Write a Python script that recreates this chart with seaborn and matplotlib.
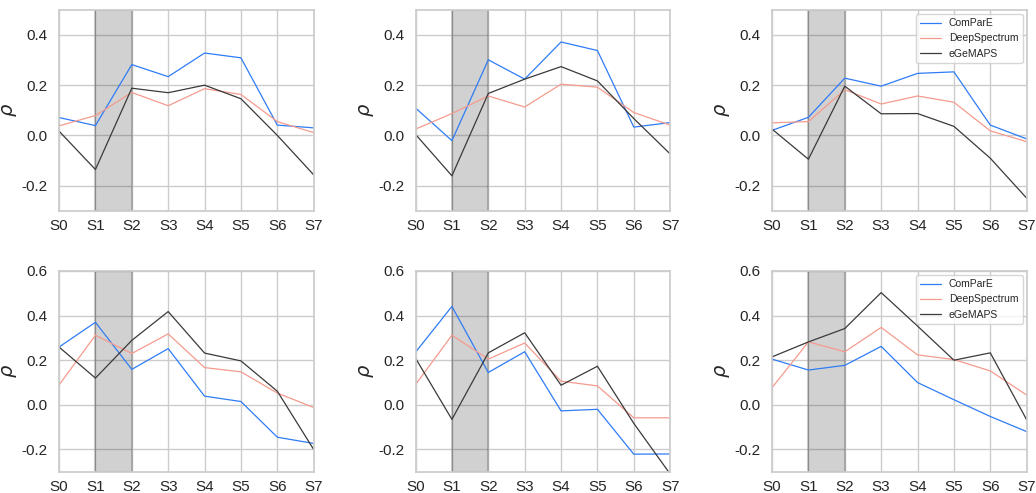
import numpy as np
import pandas as pd
import matplotlib
matplotlib.use("Agg")
import matplotlib.pyplot as plt
import seaborn as sns

stages = ["S0", "S1", "S2", "S3", "S4", "S5", "S6", "S7"]
features = ["ComParE", "DeepSpectrum", "eGeMAPS"]

# panel values, rows: ComParE, DeepSpectrum, eGeMAPS
p_top_left = [
    [0.071, 0.039, 0.282, 0.234, 0.328, 0.309, 0.041, 0.030],
    [0.038, 0.079, 0.171, 0.118, 0.186, 0.163, 0.055, 0.011],
    [0.017, -0.136, 0.188, 0.170, 0.200, 0.146, 0.000, -0.157],
]
p_top_mid = [
    [0.109, -0.021, 0.301, 0.224, 0.372, 0.338, 0.033, 0.051],
    [0.025, 0.087, 0.157, 0.113, 0.204, 0.192, 0.091, 0.041],
    [0.004, -0.161, 0.167, 0.224, 0.274, 0.217, 0.067, -0.074],
]
p_top_right = [
    [0.020, 0.072, 0.228, 0.196, 0.247, 0.253, 0.041, -0.014],
    [0.050, 0.055, 0.182, 0.125, 0.157, 0.132, 0.018, -0.025],
    [0.025, -0.095, 0.196, 0.086, 0.087, 0.036, -0.091, -0.250],
]
p_bot_left = [
    [0.259, 0.370, 0.159, 0.252, 0.039, 0.015, -0.145, -0.173],
    [0.089, 0.312, 0.230, 0.318, 0.167, 0.148, 0.053, -0.012],
    [0.259, 0.120, 0.289, 0.418, 0.232, 0.197, 0.061, -0.200],
]
p_bot_mid = [
    [0.236, 0.441, 0.145, 0.238, -0.027, -0.020, -0.221, -0.220],
    [0.091, 0.312, 0.205, 0.277, 0.106, 0.085, -0.058, -0.058],
    [0.209, -0.065, 0.233, 0.323, 0.088, 0.173, -0.083, -0.310],
]
p_bot_right = [
    [0.205, 0.156, 0.177, 0.262, 0.100, 0.023, -0.052, -0.120],
    [0.077, 0.282, 0.238, 0.347, 0.224, 0.203, 0.152, 0.044],
    [0.215, 0.282, 0.342, 0.503, 0.353, 0.200, 0.233, -0.067],
]

panels = [p_top_left, p_top_mid, p_top_right, p_bot_left, p_bot_mid, p_bot_right]
ylims = [(-0.3, 0.5)] * 3 + [(-0.3, 0.6)] * 3
legend_on = [False, False, True, False, False, True]

sns.set_theme(style="whitegrid")
plt.rcParams["font.family"] = ["Liberation Sans", "DejaVu Sans"]
plt.rcParams["axes.unicode_minus"] = False

palette = {"ComParE": "#2f7cf6", "DeepSpectrum": "#f59b8e", "eGeMAPS": "#3a3a3a"}

fig, axes = plt.subplots(2, 3, figsize=(10.36, 4.93), dpi=100)
fig.subplots_adjust(left=0.057, right=0.991, top=0.980, bottom=0.043,
                    wspace=0.40, hspace=0.30)

for ax, vals, yl, leg in zip(axes.flat, panels, ylims, legend_on):
    rows = []
    for f, series in zip(features, vals):
        for i, v in enumerate(series):
            rows.append({"stage": i, "p": v, "feature": f})
    df = pd.DataFrame(rows)
    ax.axvspan(1, 2, color="k", alpha=0.2, lw=1.5)
    sns.lineplot(data=df, x="stage", y="p", hue="feature", palette=palette,
                 hue_order=features, linewidth=0.9, ax=ax, legend=leg)
    ax.set_xlim(0, 7)
    ax.set_ylim(*yl)
    ax.set_xticks(range(len(stages)))
    ax.set_xticklabels(stages)
    ax.set_xlabel("")
    ax.set_ylabel(r"$\rho$", fontsize=14, labelpad=2)
    ax.tick_params(axis="x", labelsize=11, pad=0)
    ax.tick_params(axis="y", labelsize=11, pad=2)
    if leg:
        ax.legend(loc="upper right", fontsize=7.5, title=None, frameon=True,
                  borderaxespad=0.4)

fig.savefig("out.png", dpi=100)
